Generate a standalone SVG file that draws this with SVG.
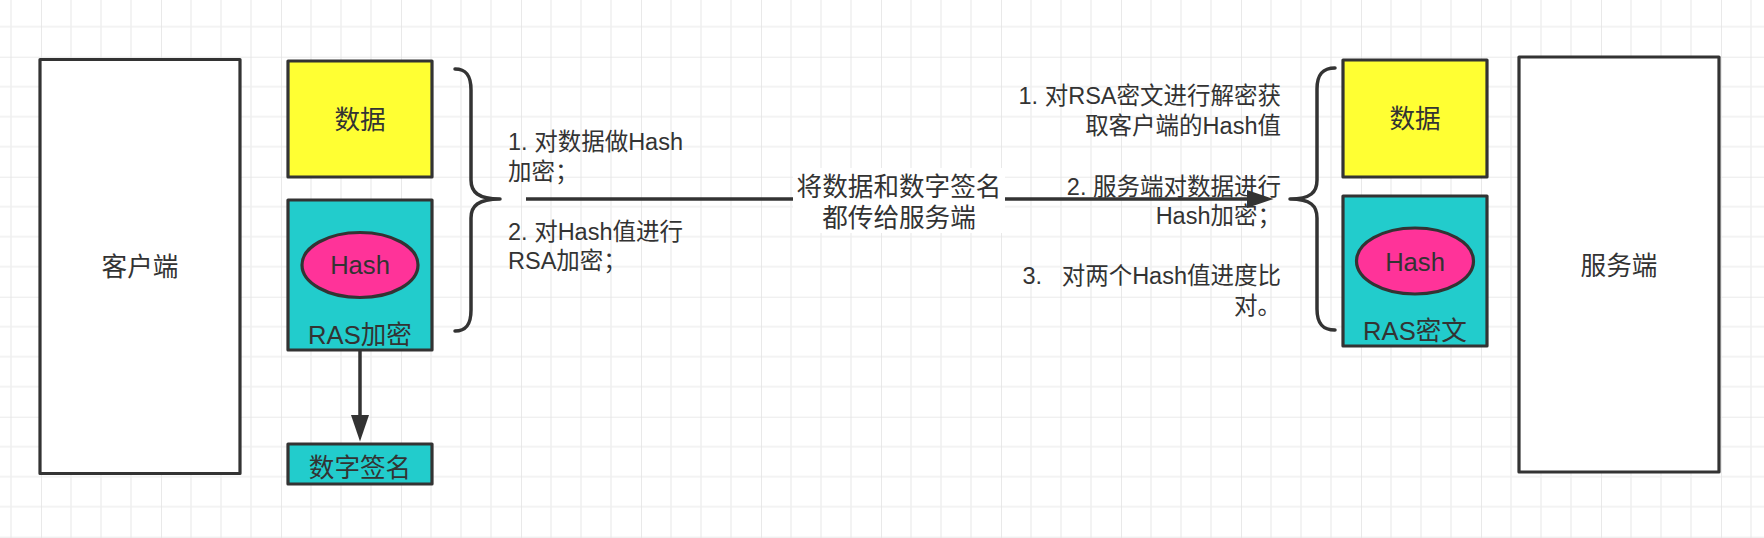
<svg xmlns="http://www.w3.org/2000/svg" width="1764" height="538" viewBox="0 0 1764 538">
<style>
.box{stroke:#333333;stroke-width:3.2;stroke-linejoin:round}
.t{font-family:"Liberation Sans","Noto Sans CJK SC",sans-serif;fill:#333333}
.n{font-size:25.6px;text-anchor:middle}
.f{font-size:23.5px}
.r{text-anchor:end}
.edge{stroke:#333333;stroke-width:3.5;fill:none}
.brace{stroke:#333333;stroke-width:3.5;fill:none;stroke-linecap:round;stroke-linejoin:round}
</style>
<defs>
<pattern id="grid" patternUnits="userSpaceOnUse" x="41" y="56.7" width="120" height="120">
<path d="M30,0V120M60,0V120M90,0V120M0,30H120M0,60H120M0,90H120" stroke="#f0f0f0" stroke-width="1.6" fill="none"/>
<path d="M0,0V120M0,0H120" stroke="#e4e4e4" stroke-width="1.6" fill="none"/>
</pattern>
<marker id="arrow" markerUnits="userSpaceOnUse" markerWidth="27" markerHeight="18" refX="0" refY="9" orient="auto">
<path d="M0,0 L26.5,9 L0,18 Z" fill="#333333"/>
</marker>
</defs>
<rect width="1764" height="538" fill="#ffffff"/>
<rect width="1764" height="538" fill="url(#grid)"/>

<g id="client">
<rect class="box" x="40" y="59.5" width="200" height="414" fill="#ffffff"/>
<text class="t n" x="140" y="275.5">客户端</text>
</g>
<g id="data-left">
<rect class="box" x="288" y="61" width="144" height="116" fill="#ffff33"/>
<text class="t n" x="360" y="128.5">数据</text>
</g>
<g id="ras-left">
<rect class="box" x="288" y="200" width="144" height="150" fill="#22cccc"/>
<ellipse class="box" cx="360" cy="265" rx="58" ry="32.5" fill="#ff3399"/>
<text class="t n" x="360" y="274">Hash</text>
<text class="t n" x="360" y="343.5">RAS加密</text>
</g>
<g id="signature">
<rect class="box" x="288" y="444" width="144" height="40" fill="#22cccc"/>
<text class="t n" x="360" y="477">数字签名</text>
</g>
<g id="brace-left">
<path class="brace" d="M455,69 C466,69 471,75 471,90 L471,180 C471,192 478,199 500,199 C478,199 471,206 471,218 L471,310 C471,325 466,331 455,331"/>
</g>
<g id="steps-left">
<text class="t f" x="508" y="150">1. 对数据做Hash</text>
<text class="t f" x="508" y="180">加密；</text>
<text class="t f" x="508" y="240">2. 对Hash值进行</text>
<text class="t f" x="508" y="269">RSA加密；</text>
</g>
<g id="steps-right">
<text class="t f r" x="1281" y="104">1. 对RSA密文进行解密获</text>
<text class="t f r" x="1281" y="133.5">取客户端的Hash值</text>
<text class="t f r" x="1281" y="194.5">2. 服务端对数据进行</text>
<text class="t f r" x="1281" y="224">Hash加密；</text>
<text class="t f r" x="1281" y="284" xml:space="preserve">3.   对两个Hash值进度比</text>
<text class="t f r" x="1281" y="313.5">对。</text>
</g>
<g id="brace-right">
<path class="brace" d="M1335,68 C1323,68 1317,74 1317,89 L1317,180 C1317,192 1311,199 1290,199 C1311,199 1317,206 1317,218 L1317,309 C1317,324 1323,330 1335,330"/>
</g>
<g id="data-right">
<rect class="box" x="1343" y="60" width="144" height="117" fill="#ffff33"/>
<text class="t n" x="1415" y="128">数据</text>
</g>
<g id="ras-right">
<rect class="box" x="1343" y="196" width="144" height="150" fill="#22cccc"/>
<ellipse class="box" cx="1415" cy="261" rx="58.5" ry="33" fill="#ff3399"/>
<text class="t n" x="1415" y="270.5">Hash</text>
<text class="t n" x="1415" y="340">RAS密文</text>
</g>
<g id="server">
<rect class="box" x="1519" y="57" width="200" height="415" fill="#ffffff"/>
<text class="t n" x="1619" y="275">服务端</text>
</g>
<g id="connectors">
<path class="edge" d="M360,350 L360,415" marker-end="url(#arrow)"/>
<path class="edge" d="M526,199 L1247,199" marker-end="url(#arrow)"/>
<rect x="793" y="168" width="212" height="65" fill="#ffffff"/>
<text class="t n" x="899" y="196.3">将数据和数字签名</text>
<text class="t n" x="899" y="227.3">都传给服务端</text>
</g>
</svg>
